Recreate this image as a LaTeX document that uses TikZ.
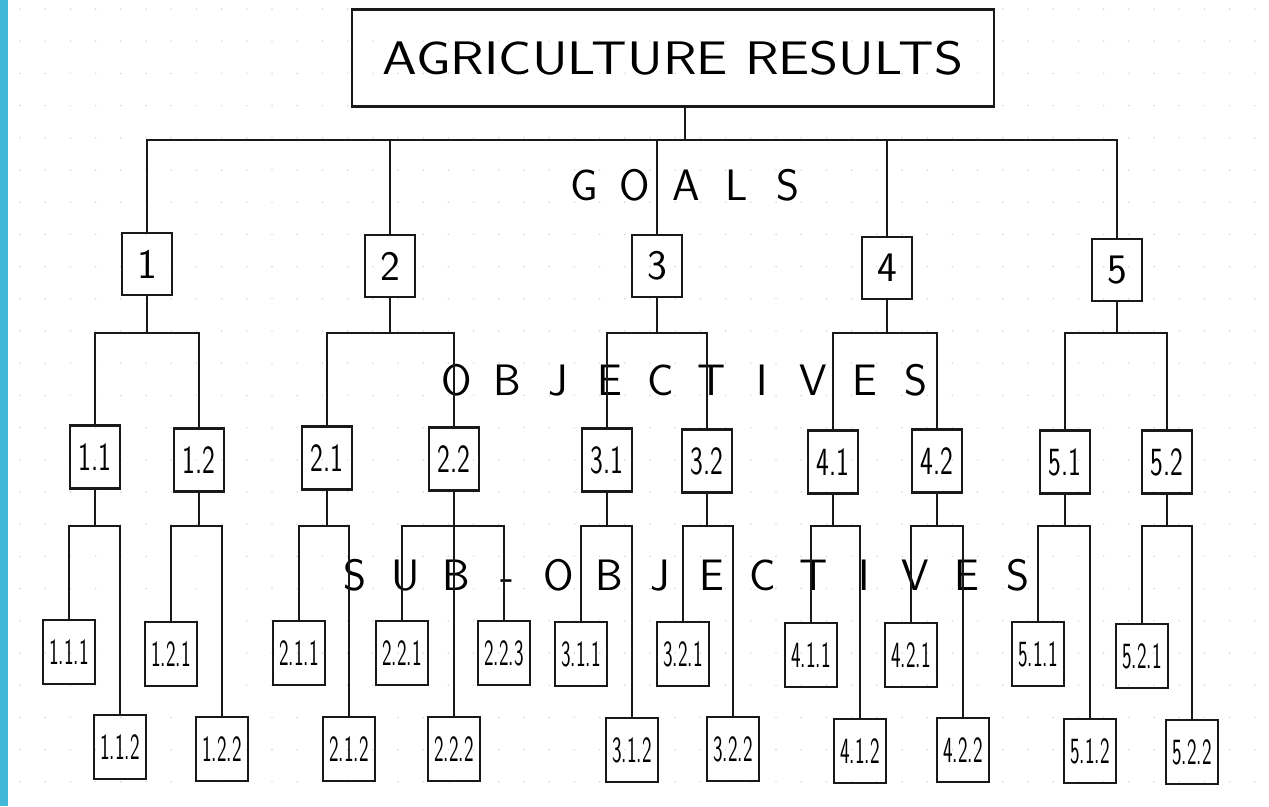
\documentclass[tikz,border=0pt]{standalone}
\definecolor{stripblue}{RGB}{64,184,214}
\definecolor{ink}{RGB}{25,25,25}
\newcommand\ls[1]{\makebox[51pt]{#1}}
\newcommand\objlab[1]{\scalebox{0.68}[1]{#1}}
\newcommand\sublab[1]{\scalebox{0.55}[1]{#1}}
\begin{document}
\begin{tikzpicture}[x={(1pt,0pt)},y={(0pt,-1pt)},
  ink/.style={draw=ink,line width=2.2pt},
  topbox/.style={ink,minimum width=642pt,minimum height=97pt,inner sep=0pt,
     font=\sffamily\fontsize{47}{47}\selectfont},
  gbox/.style={ink,minimum width=50pt,minimum height=62pt,inner sep=0pt,
     font=\sffamily\fontsize{42}{42}\selectfont},
  obox/.style={ink,minimum width=50pt,minimum height=63pt,inner sep=0pt,
     font=\sffamily\fontsize{40}{40}\selectfont},
  sbox/.style={ink,minimum width=52pt,minimum height=64pt,inner sep=0pt,
     font=\sffamily\fontsize{37}{37}\selectfont},
  link/.style={draw=ink,line width=2pt},
  spaced/.style={inner sep=0pt,font=\sffamily\fontsize{44}{44}\selectfont}]
\useasboundingbox (0,0) rectangle (1269,806);
\fill[white] (0,0) rectangle (1269,806);
\fill[stripblue] (0,0) rectangle (8,806);
\foreach \i in {0,...,49}{\foreach \j in {0,...,24}{
  \fill[gray!30] ({20+\i*25.2},{9+\j*32.2}) circle (0.9pt);}}

% top
\node[topbox] (top) at (673,58) {\scalebox{1.18}[1]{AGRICULTURE RESULTS}};

% goals
\node[gbox] (g1) at (147,264) {1};
\node[gbox] (g2) at (390,266) {2};
\node[gbox] (g3) at (657,266) {3};
\node[gbox] (g4) at (887,268) {4};
\node[gbox] (g5) at (1117,270) {5};

% objectives
\node[obox] (o11) at (95,457) {\objlab{1.1}};
\node[obox] (o12) at (199,460) {\objlab{1.2}};
\node[obox] (o21) at (327,458) {\objlab{2.1}};
\node[obox] (o22) at (454,459) {\objlab{2.2}};
\node[obox] (o31) at (607,460) {\objlab{3.1}};
\node[obox] (o32) at (707,461) {\objlab{3.2}};
\node[obox] (o41) at (833,462) {\objlab{4.1}};
\node[obox] (o42) at (937,461) {\objlab{4.2}};
\node[obox] (o51) at (1065,462) {\objlab{5.1}};
\node[obox] (o52) at (1167,462) {\objlab{5.2}};

% sub-objectives
\node[sbox] (s111) at (69,652) {\sublab{1.1.1}};
\node[sbox] (s112) at (120,747) {\sublab{1.1.2}};
\node[sbox] (s121) at (171,654) {\sublab{1.2.1}};
\node[sbox] (s122) at (222,749) {\sublab{1.2.2}};
\node[sbox] (s211) at (299,653) {\sublab{2.1.1}};
\node[sbox] (s212) at (349,749) {\sublab{2.1.2}};
\node[sbox] (s221) at (402,653) {\sublab{2.2.1}};
\node[sbox] (s222) at (454,749) {\sublab{2.2.2}};
\node[sbox] (s223) at (504,653) {\sublab{2.2.3}};
\node[sbox] (s311) at (581,654) {\sublab{3.1.1}};
\node[sbox] (s312) at (632,750) {\sublab{3.1.2}};
\node[sbox] (s321) at (683,654) {\sublab{3.2.1}};
\node[sbox] (s322) at (733,749) {\sublab{3.2.2}};
\node[sbox] (s411) at (811,655) {\sublab{4.1.1}};
\node[sbox] (s412) at (860,751) {\sublab{4.1.2}};
\node[sbox] (s421) at (911,655) {\sublab{4.2.1}};
\node[sbox] (s422) at (963,750) {\sublab{4.2.2}};
\node[sbox] (s511) at (1038,654) {\sublab{5.1.1}};
\node[sbox] (s512) at (1090,751) {\sublab{5.1.2}};
\node[sbox] (s521) at (1142,656) {\sublab{5.2.1}};
\node[sbox] (s522) at (1192,752) {\sublab{5.2.2}};

% level labels
\node[spaced] (lgoals) at (686,185) {\ls{G}\ls{O}\ls{A}\ls{L}\ls{S}};
\node[spaced] (lobj) at (686,380) {\ls{O}\ls{B}\ls{J}\ls{E}\ls{C}\ls{T}\ls{I}\ls{V}\ls{E}\ls{S}};
\node[spaced] (lsub) at (686,575) {\ls{S}\ls{U}\ls{B}\ls{-}\ls{O}\ls{B}\ls{J}\ls{E}\ls{C}\ls{T}\ls{I}\ls{V}\ls{E}\ls{S}};

% connectors: top -> goals
\coordinate (b0) at (685,140);
\draw[link] (top.south -| b0) -- (b0);
\draw[link] (g1.north) -- (g1.north |- b0) -- (g5.north |- b0) -- (g5.north);
\foreach \g in {g2,g3,g4}{\draw[link] (\g.north) -- (\g.north |- b0);}

% goals -> objectives
\coordinate (b1) at (0,333);
\foreach \g/\a/\b in {g1/o11/o12,g2/o21/o22,g3/o31/o32,g4/o41/o42,g5/o51/o52}{
  \draw[link] (\g.south) -- (\g.south |- b1);
  \draw[link] (\a.north) -- (\a.north |- b1) -- (\b.north |- b1) -- (\b.north);
}

% objectives -> sub-objectives
\coordinate (b2) at (0,526);
\foreach \o/\a/\b in {o11/s111/s112,o12/s121/s122,o21/s211/s212,o22/s221/s223,
  o31/s311/s312,o32/s321/s322,o41/s411/s412,o42/s421/s422,o51/s511/s512,o52/s521/s522}{
  \draw[link] (\o.south) -- (\o.south |- b2);
  \draw[link] (\a.north) -- (\a.north |- b2) -- (\b.north |- b2) -- (\b.north);
}
\draw[link] (s222.north) -- (s222.north |- b2);
\end{tikzpicture}
\end{document}
